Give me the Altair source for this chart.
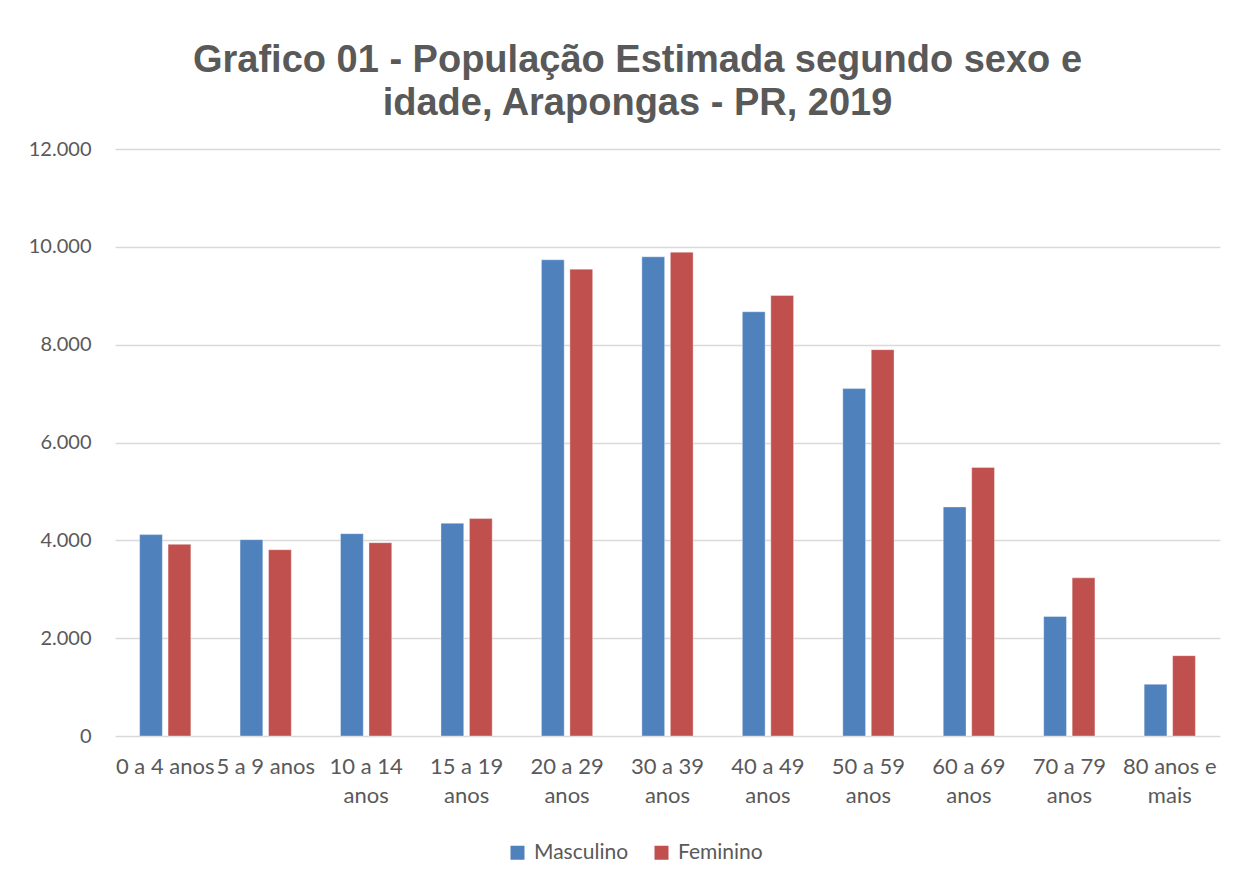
import altair as alt
import pandas as pd

categorias = ["0 a 4 anos", "5 a 9 anos", "10 a 14 anos", "15 a 19 anos", "20 a 29 anos",
              "30 a 39 anos", "40 a 49 anos", "50 a 59 anos", "60 a 69 anos", "70 a 79 anos",
              "80 anos e mais"]
rotulos = [["0 a 4 anos"], ["5 a 9 anos"], ["10 a 14", "anos"], ["15 a 19", "anos"],
           ["20 a 29", "anos"], ["30 a 39", "anos"], ["40 a 49", "anos"], ["50 a 59", "anos"],
           ["60 a 69", "anos"], ["70 a 79", "anos"], ["80 anos e", "mais"]]
masculino = [4117, 4014, 4137, 4349, 9735, 9796, 8673, 7102, 4683, 2443, 1057]
feminino = [3918, 3809, 3952, 4445, 9544, 9890, 9006, 7898, 5490, 3233, 1642]
series = ["Masculino", "Feminino"]
cores = ["#4F81BD", "#C0504D"]
ticks_y = [0, 2000, 4000, 6000, 8000, 10000, 12000]

rows = []
for c, m, f in zip(categorias, masculino, feminino):
    rows.append({"idade": c, "sexo": "Masculino", "pop": m})
    rows.append({"idade": c, "sexo": "Feminino", "pop": f})
df = pd.DataFrame(rows)

lab_map = "{" + ", ".join(
    "'" + c + "': [" + ", ".join("'" + p + "'" for p in r) + "]" for c, r in zip(categorias, rotulos)
) + "}"

FONT = "Lato"
GRAY = "#595959"

chart = alt.Chart(df).mark_bar(stroke="white", strokeWidth=0.6, strokeOpacity=0.6).encode(
    x=alt.X("idade:N", sort=categorias, title=None,
            scale=alt.Scale(paddingInner=0.49, paddingOuter=0.245),
            axis=alt.Axis(labelAngle=0, labelExpr=lab_map + "[datum.value]",
                          labelFont=FONT, labelFontSize=22, labelColor=GRAY,
                          ticks=False, domain=False, labelPadding=20, labelLineHeight=29,
                          labelBaseline="top")),
    xOffset=alt.XOffset("sexo:N", sort=series, scale=alt.Scale(paddingInner=0.2, paddingOuter=0)),
    y=alt.Y("pop:Q", title=None,
            scale=alt.Scale(domain=[0, 12000], nice=False),
            axis=alt.Axis(values=ticks_y, labelExpr="replace(format(datum.value, ','), ',', '.')",
                          labelFont=FONT, labelFontSize=20, labelColor=GRAY,
                          ticks=False, domain=False, labelPadding=24,
                          gridColor="#D9D9D9", gridWidth=1.3)),
    color=alt.Color("sexo:N", sort=series, scale=alt.Scale(domain=series, range=cores),
                    legend=alt.Legend(title=None, orient="none", direction="horizontal",
                                      legendX=392, legendY=693, symbolType="square",
                                      symbolSize=196, symbolStrokeWidth=0,
                                      labelFont=FONT, labelFontSize=21, labelColor=GRAY,
                                      columnPadding=22, labelOffset=6)),
).properties(
    width=1105, height=587,
    title=alt.TitleParams(
        text=["Grafico 01 -  População Estimada segundo sexo e", "idade, Arapongas - PR, 2019"],
        font="Liberation Sans", fontSize=38, fontWeight="bold", color=GRAY,
        anchor="middle", dx=-30, lineHeight=43, offset=16),
    padding={"left": 20, "top": 34, "right": 10, "bottom": 40},
).configure(background="white").configure_view(strokeWidth=0, stroke="transparent")

chart.save("out.html", embed_options={"renderer": "svg", "actions": False})
